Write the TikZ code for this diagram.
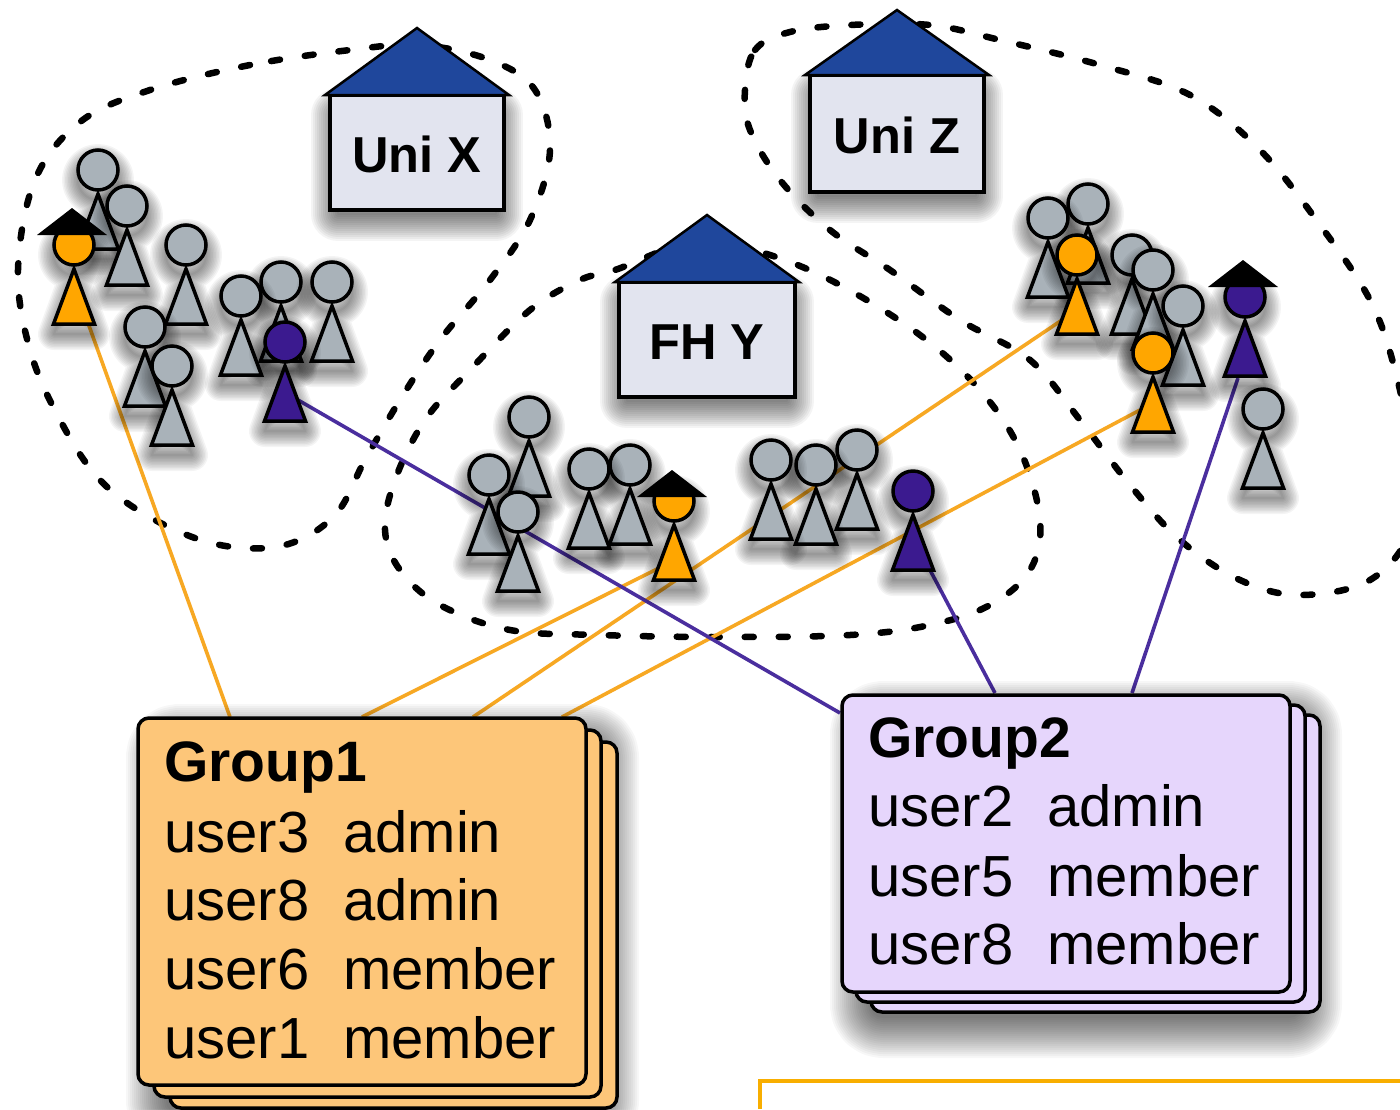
\documentclass[tikz,border=0pt]{standalone}
\usepackage{fontspec}
\setmainfont{Liberation Sans}
\pgfdeclarelayer{back}
\pgfsetlayers{back,main}
\definecolor{grayfig}{HTML}{A9B2B9}
\definecolor{orangefig}{HTML}{FFA600}
\definecolor{purplefig}{HTML}{3B1A8F}
\definecolor{orangeline}{HTML}{F7A823}
\definecolor{purpleline}{HTML}{4A2E9E}
\definecolor{housefill}{HTML}{E2E4EF}
\definecolor{roofblue}{HTML}{1F479C}
\definecolor{cardorange}{HTML}{FDC679}
\definecolor{cardpurple}{HTML}{E6D6FC}
\definecolor{framey}{HTML}{F8AE00}
\tikzset{
  shadowlayer/.style={draw=black,opacity=.045,line join=round,line cap=round},
  widelayer/.style={draw=black,opacity=.03,line join=round,line cap=round},
  figline/.style={draw=black,line width=3.5pt,line join=miter},
  headnode/.style={circle,draw=black,line width=3.5pt,minimum size=40pt,inner sep=0pt},
  blob/.style={draw=black,line width=6.5pt,line cap=round,dash pattern=on 9pt off 25pt},
  orangeconn/.style={draw=orangeline,line width=3.6pt},
  purpleconn/.style={draw=purpleline,line width=3.6pt},
  housebox/.style={rectangle,draw=black,line width=3.5pt,fill=housefill,inner sep=0pt,outer sep=0pt,
    font=\fontsize{50.5}{50.5}\selectfont\bfseries},
  roof/.style={draw=black,line width=2.5pt,fill=roofblue,line join=miter},
  cardbox/.style={rectangle,draw=black,line width=3.5pt,rounded corners=11pt,inner sep=0pt,outer sep=0pt},
  cardtitle/.style={anchor=base west,inner sep=0pt,font=\fontsize{57}{57}\selectfont\bfseries},
  cardtext/.style={anchor=base west,inner sep=0pt,font=\fontsize{58}{58}\selectfont},
}
% #1 offset, #2 widths, #3 path
\newcommand\softshadow[3]{%
  \foreach \w in {#2}{%
    \path[shadowlayer,line width=\w pt,yshift=-#1pt] #3;%
  }%
}
\newcommand\wideshadow[2]{%
  \foreach \w in {84,80,...,4}{%
    \path[widelayer,line width=\w pt,yshift=-#1pt] #2;%
  }%
}
% #1 name, #2 x, #3 y, #4 colour
\newcommand\person[4]{%
  \begin{scope}[shift={(#2,#3)}]
    \softshadow{10}{32,29,26,23,20,17,14,11,8,5,2}{(0,0) circle[radius=20] (-20,79) -- (0,24) -- (20,79) -- cycle}
    \draw[figline,fill=#4] (-20.5,79) -- (0,24) -- (20.5,79) -- cycle;
    \node[headnode,fill=#4] (#1) at (0,0) {};
  \end{scope}
}
% #1 x, #2 y reference of the hat
\newcommand\hatfor[2]{%
  \fill[black,line join=miter] (#1-37,#2-10) -- (#1-2,#2-37) -- (#1+33,#2-10) -- cycle;
}
% #1 name, #2 cx, #3 cy, #4 w, #5 h, #6 text, #7 roof halfwidth, #8 roof rise
\newcommand\uni[8]{%
  \softshadow{12}{54,50,46,42,38,34,30,26,22,18,14,10,6,2}{(#2-#4/2+8,#3-#5/2+8) rectangle (#2+#4/2-8,#3+#5/2-8)}
  \node[housebox,minimum width=#4pt,minimum height=#5pt] (#1) at (#2,#3) {\raisebox{-20pt}[0pt][0pt]{#6}};
  \draw[roof] (#2-#7,#3-#5/2) -- (#2,#3-#5/2-#8) -- (#2+#7,#3-#5/2) -- cycle;
}
% #1 name, #2 x1, #3 y1, #4 x2, #5 y2, #6 fill
\newcommand\card[6]{%
  \node[cardbox,fill=#6,minimum width=#4pt-#2pt,minimum height=#5pt-#3pt,anchor=north west] (#1) at (#2,#3) {};
}
\begin{document}
\begin{tikzpicture}[x=1pt,y=-1pt]
\useasboundingbox (0,0) rectangle (1400,1109);

% --- free ends of the connectors
\coordinate (a1) at (88,323);   \coordinate (b1) at (230,717);
\coordinate (a2) at (665,565);  \coordinate (b2) at (362,717);
\coordinate (a3) at (1062,320); \coordinate (b3) at (473,717);
\coordinate (a4) at (1140,410); \coordinate (b4) at (562,717);
\coordinate (a5) at (298,400);  \coordinate (b5) at (840,713);
\coordinate (a6) at (930,570);  \coordinate (b6) at (995,693);
\coordinate (a7) at (1238,378); \coordinate (b7) at (1132,693);

\begin{pgfonlayer}{back}
  \fill[white] (0,0) rectangle (1400,1109);
  \draw[blob] plot[smooth cycle,tension=.6] coordinates {
    (350,50) (250,65) (150,90) (80,122) (35,180) (18,270) (30,350) (60,420) (100,480)
    (155,520) (220,545) (285,545) (335,515) (365,460) (400,400) (440,340) (490,280)
    (530,220) (550,150) (535,90) (490,60) (420,45)};
  \draw[blob] plot[smooth cycle,tension=.6] coordinates {
    (745,90) (755,50) (790,32) (850,25) (930,25) (1000,40) (1100,65) (1190,95) (1260,150)
    (1320,225) (1370,300) (1395,370) (1410,450) (1410,530) (1370,580) (1300,595) (1240,580)
    (1180,540) (1130,485) (1080,420) (1030,360) (960,320) (890,270) (830,230) (780,180) (750,130)};
  \draw[blob] plot[smooth cycle,tension=.6] coordinates {
    (615,270) (700,240) (770,255) (840,285) (920,335) (980,390) (1020,450) (1040,520)
    (1030,570) (990,605) (930,625) (850,635) (720,637) (600,635) (510,630) (440,605)
    (400,570) (385,530) (395,480) (425,420) (470,370) (530,310) (580,280)};
  \draw[orangeconn] (a1) -- (b1);
  \draw[orangeconn] (a2) -- (b2);
  \draw[orangeconn] (a3) -- (b3);
  \draw[orangeconn] (a4) -- (b4);
  \draw[purpleconn] (a5) -- (b5);
  \draw[purpleconn] (a6) -- (b6);
  \draw[purpleconn] (a7) -- (b7);
\end{pgfonlayer}

% --- houses
\uni{unix}{417}{152.5}{174}{115}{Uni X}{92}{67}
\uni{uniz}{897}{133.5}{174}{117}{Uni Z}{92}{65}
\uni{fhy}{707}{339.5}{176}{115}{FH Y}{92}{67}

% --- people, Uni X
\person{xa}{98}{170}{grayfig}
\person{xb}{127}{206}{grayfig}
\person{xc}{186}{245}{grayfig}
\person{xd}{145}{327}{grayfig}
\person{xe}{172}{366}{grayfig}
\person{xf}{281}{282}{grayfig}
\person{xg}{241}{296}{grayfig}
\person{xh}{332}{282}{grayfig}
\person{xi}{285}{342}{purplefig}
\person{xj}{74}{245}{orangefig}
\hatfor{74}{245}

% --- people, FH Y
\person{ya}{529}{417}{grayfig}
\person{yb}{489}{475}{grayfig}
\person{yc}{518}{512}{grayfig}
\person{yd}{630}{465}{grayfig}
\person{ye}{589}{469}{grayfig}
\person{yf}{674}{501}{orangefig}
\hatfor{674}{507}
\person{yg}{857}{450}{grayfig}
\person{yh}{816}{465}{grayfig}
\person{yi}{771}{460}{grayfig}
\person{yj}{913}{491}{purplefig}

% --- people, Uni Z
\person{za}{1088}{204}{grayfig}
\person{zb}{1048}{218}{grayfig}
\person{zc}{1077}{255}{orangefig}
\person{zd}{1132}{255}{grayfig}
\person{ze}{1153}{270}{grayfig}
\person{zf}{1183}{306}{grayfig}
\person{zg}{1153}{353}{orangefig}
\person{zh}{1245}{297}{purplefig}
\hatfor{1245}{297}
\person{zi}{1263}{409}{grayfig}

% --- Group1 stack
\wideshadow{16}{[rounded corners=11pt] (168,730) rectangle (597,1096)}
\card{g1c}{170}{742}{617}{1108}{cardorange}
\card{g1b}{154}{730}{601}{1097}{cardorange}
\card{g1a}{138}{718}{586}{1085}{cardorange}
\node[cardtitle] (t1) at (164,781) {Group1};
\node[cardtext] (t1a) at (164,852) {user3};
\node[cardtext] (t1b) at (343,852) {admin};
\node[cardtext] (t1c) at (164,920) {user8};
\node[cardtext] (t1d) at (343,920) {admin};
\node[cardtext] (t1e) at (164,989) {user6};
\node[cardtext] (t1f) at (343,989) {member};
\node[cardtext] (t1g) at (164,1058) {user1};
\node[cardtext] (t1h) at (343,1058) {member};

% --- Group2 stack
\wideshadow{16}{[rounded corners=11pt] (872,707) rectangle (1300,1000)}
\card{g2c}{871}{715}{1320}{1012}{cardpurple}
\card{g2b}{856}{705}{1305}{1002}{cardpurple}
\card{g2a}{842}{695}{1290}{992}{cardpurple}
\node[cardtitle] (t2) at (868,757) {Group2};
\node[cardtext] (t2a) at (868,826) {user2};
\node[cardtext] (t2b) at (1047,826) {admin};
\node[cardtext] (t2c) at (868,896) {user5};
\node[cardtext] (t2d) at (1047,896) {member};
\node[cardtext] (t2e) at (868,964) {user8};
\node[cardtext] (t2f) at (1047,964) {member};

% --- frame at the bottom right
\draw[framey,line width=4.5pt] (760,1109) -- (760,1081) -- (1400,1081);
\end{tikzpicture}
\end{document}
